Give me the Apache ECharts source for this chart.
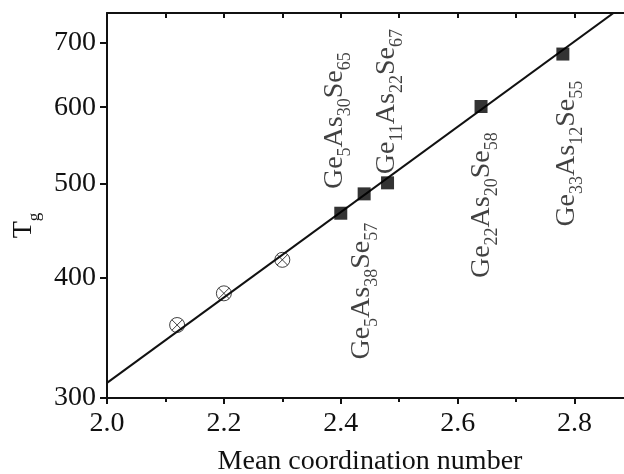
<!DOCTYPE html>
<html>
<head>
<meta charset="utf-8">
<style>
html, body { margin: 0; padding: 0; background: #fff; }
#main { width: 624px; height: 474px; }
</style>
<script src="https://cdn.jsdelivr.net/npm/echarts@6/dist/echarts.min.js"></script>
</head>
<body>
<div id="main"></div>
<script>
// Tg vs mean coordination number, Tg on a log scale
var circleX = [2.12, 2.2, 2.3];
var circleTg = [357, 385, 417];
var squareX = [2.4, 2.44, 2.48, 2.64, 2.78];
var squareTg = [466, 488, 501, 601, 681];
var fitX = [2.0, 2.9];
var fitTg = [311, 777];
var tgTicks = [300, 400, 500, 600, 700];

// composition labels (Ge_a As_b Se_c) and label anchors
var labelGe = [5, 11, 5, 22, 33];
var labelAs = [30, 22, 38, 20, 12];
var labelSe = [65, 67, 57, 58, 55];
var labelX = [2.391, 2.480, 2.437, 2.642, 2.788];
var labelTg = [581, 608, 387, 475, 537];

var FONT = '"Liberation Serif", "DejaVu Serif", serif';
var INK = '#111';

function toPts(xs, ts) {
    return xs.map(function (x, i) { return [x, Math.log(ts[i])]; });
}

var circleSym = 'path://M10,0A10,10,0,1,1,10,20A10,10,0,1,1,10,0Z' +
    'M2.93,2.93L17.07,17.07M17.07,2.93L2.93,17.07';

var chart = echarts.init(document.getElementById('main'));

var xCommon = {
    type: 'value',
    min: 2.0,
    max: 2.9,
    interval: 0.2,
    splitLine: { show: false },
    axisLine: { lineStyle: { color: INK, width: 2 } }
};

var option = {
    backgroundColor: '#fff',
    animation: false,
    grid: {
        left: 107,
        top: 13,
        right: -9,
        bottom: 76,
        outerBoundsMode: 'none'
    },
    xAxis: [
        Object.assign({}, xCommon, {
            position: 'bottom',
            name: 'Mean coordination number',
            nameLocation: 'middle',
            nameGap: 50,
            nameTextStyle: { fontFamily: FONT, fontSize: 28, color: INK },
            axisTick: { length: 6, lineStyle: { color: INK, width: 2 } },
            minorTick: { show: true, splitNumber: 2, length: 4, lineStyle: { color: INK, width: 2 } },
            axisLabel: {
                fontFamily: FONT,
                fontSize: 28,
                color: INK,
                margin: 12,
                showMaxLabel: false,
                formatter: function (v) { return v.toFixed(1); }
            }
        }),
        Object.assign({}, xCommon, {
            position: 'top',
            axisTick: { inside: true, length: 5, lineStyle: { color: INK, width: 2 } },
            minorTick: { show: true, splitNumber: 2, length: 5, lineStyle: { color: INK, width: 2 } },
            axisLabel: { show: false }
        })
    ],
    yAxis: {
        type: 'value',
        min: Math.log(300),
        max: Math.log(751),
        name: '{t|T}{g|g}',
        nameLocation: 'middle',
        nameRotate: 90,
        nameGap: 56,
        nameTextStyle: {
            fontFamily: FONT,
            color: INK,
            padding: [0, 40, 0, 0],
            rich: {
                t: { fontFamily: FONT, fontSize: 28, lineHeight: 30, verticalAlign: 'top', color: INK },
                g: { fontFamily: FONT, fontSize: 17, lineHeight: 18, padding: [16, 0, 0, 0], verticalAlign: 'top', color: INK }
            }
        },
        splitLine: { show: false },
        axisLine: { show: true, lineStyle: { color: INK, width: 2 } },
        axisTick: {
            length: 7,
            customValues: tgTicks.map(Math.log),
            lineStyle: { color: INK, width: 2 }
        },
        axisLabel: {
            fontFamily: FONT,
            fontSize: 28,
            color: INK,
            margin: 11,
            customValues: tgTicks.map(Math.log),
            formatter: function (v) { return Math.round(Math.exp(v)); }
        }
    },
    series: [
        {
            name: 'fit',
            type: 'line',
            data: toPts(fitX, fitTg),
            showSymbol: false,
            clip: true,
            silent: true,
            lineStyle: { color: INK, width: 2 },
            z: 2
        },
        {
            name: 'open',
            type: 'scatter',
            data: toPts(circleX, circleTg),
            symbol: circleSym,
            symbolSize: 15,
            itemStyle: { color: 'rgba(0,0,0,0)', borderColor: INK, borderWidth: 1 },
            z: 3
        },
        {
            name: 'filled',
            type: 'scatter',
            data: toPts(squareX, squareTg),
            symbol: 'rect',
            symbolSize: 13,
            itemStyle: { color: '#000' },
            z: 3
        },
        {
            name: 'labels',
            type: 'scatter',
            data: toPts(labelX, labelTg),
            symbolSize: 1,
            silent: true,
            itemStyle: { color: 'rgba(0,0,0,0)' },
            label: {
                show: true,
                position: 'inside',
                rotate: 90,
                align: 'center',
                verticalAlign: 'middle',
                formatter: function (p) {
                    var i = p.dataIndex;
                    return '{m|Ge}{s|' + labelGe[i] + '}{m|As}{s|' + labelAs[i] +
                        '}{m|Se}{s|' + labelSe[i] + '}';
                },
                rich: {
                    m: { fontFamily: FONT, fontSize: 28, lineHeight: 30, verticalAlign: 'top', color: INK },
                    s: { fontFamily: FONT, fontSize: 18, lineHeight: 18, padding: [16, 0, 0, 0], verticalAlign: 'top', color: INK }
                }
            },
            z: 4
        }
    ]
};

chart.setOption(option);
</script>
</body>
</html>
